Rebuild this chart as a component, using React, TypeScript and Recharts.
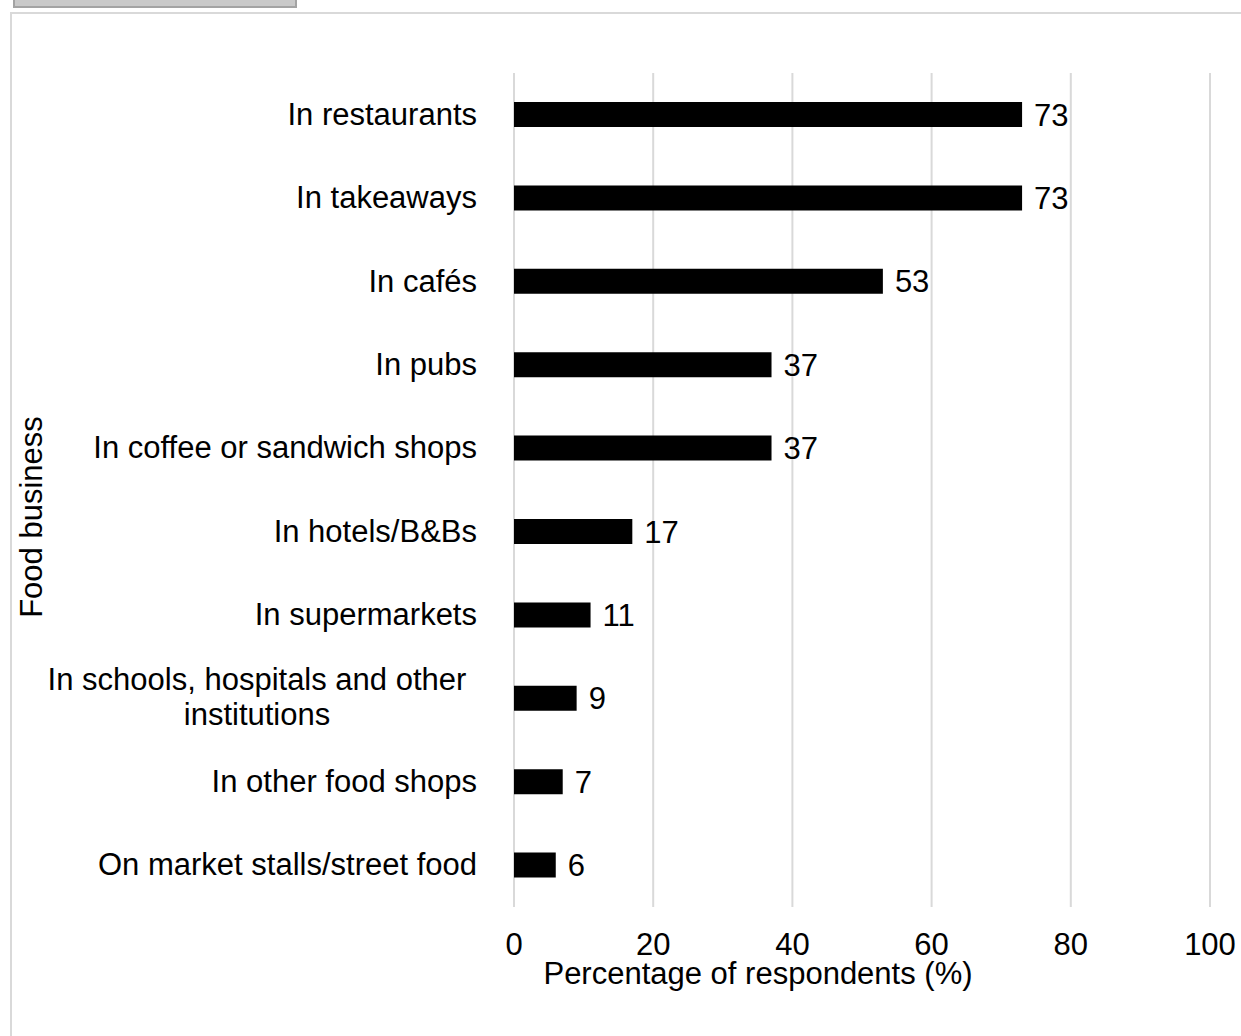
import { BarChart, Bar, XAxis, YAxis, CartesianGrid, LabelList } from 'recharts';

const categories = [
  'In restaurants',
  'In takeaways',
  'In cafés',
  'In pubs',
  'In coffee or sandwich shops',
  'In hotels/B&Bs',
  'In supermarkets',
  'In schools, hospitals and other institutions',
  'In other food shops',
  'On market stalls/street food',
];

const percentages = [73, 73, 53, 37, 37, 17, 11, 9, 7, 6];

const xTicks = [0, 20, 40, 60, 80, 100];

const data = categories.map((name, i) => ({ name, value: percentages[i] }));

const FONT = '"Liberation Sans", Arial, sans-serif';
const FS = 31;

// Excel wraps the long label onto two centred lines
const wrapLines: Record<string, string[]> = {
  'In schools, hospitals and other institutions': ['In schools, hospitals and other', 'institutions'],
};

const CategoryTick = ({ x, y, payload }: any) => {
  const lines = wrapLines[payload.value];
  if (lines) {
    const cx = x - 9 - 211;
    return (
      <g>
        <text x={cx} y={y - 9} textAnchor="middle" fontSize={FS} fontFamily={FONT} fill="#000">
          {lines[0]}
        </text>
        <text x={cx} y={y + 26} textAnchor="middle" fontSize={FS} fontFamily={FONT} fill="#000">
          {lines[1]}
        </text>
      </g>
    );
  }
  return (
    <text x={x} y={y + 10} textAnchor="end" fontSize={FS} fontFamily={FONT} fill="#000">
      {payload.value}
    </text>
  );
};

export default function App() {
  return (
    <div
      style={{
        position: 'fixed',
        left: 0,
        top: 0,
        width: 1241,
        height: 1036,
        overflow: 'hidden',
        background: '#fff',
        fontFamily: FONT,
      }}
    >
      {/* grey strip at the very top */}
      <div
        style={{
          position: 'absolute',
          left: 13,
          top: -4,
          width: 280,
          height: 8,
          background: '#c9c9c9',
          border: '2px solid #a3a3a3',
        }}
      />
      {/* chart frame */}
      <div
        style={{
          position: 'absolute',
          left: 10,
          top: 12,
          width: 1300,
          height: 1100,
          border: '2px solid #d9d9d9',
        }}
      />
      <div style={{ position: 'absolute', left: 0, top: 0 }}>
        <BarChart
          width={1241}
          height={1036}
          data={data}
          layout="vertical"
          margin={{ top: 73, right: 31, bottom: 69, left: 10 }}
          barCategoryGap={0}
        >
          <CartesianGrid horizontal={false} stroke="#d9d9d9" strokeWidth={2} />
          <XAxis
            type="number"
            domain={[0, 100]}
            ticks={xTicks}
            axisLine={false}
            tickLine={false}
            tickSize={0}
            tickMargin={26}
            height={60}
            tick={{ fontSize: FS, fill: '#000', fontFamily: FONT }}
            interval={0}
            label={{
              content: ({ viewBox }: any) => (
                <text
                  x={viewBox.x + 244}
                  y={viewBox.y + 77}
                  textAnchor="middle"
                  fontSize={FS}
                  fontFamily={FONT}
                  fill="#000"
                >
                  Percentage of respondents (%)
                </text>
              ),
            }}
          />
          <YAxis
            type="category"
            dataKey="name"
            width={504}
            axisLine={false}
            tickLine={false}
            tickSize={0}
            tickMargin={37}
            interval={0}
            tick={<CategoryTick />}
            label={{
              content: ({ viewBox }: any) => {
                const cx = viewBox.x + 21.5;
                const cy = viewBox.y + viewBox.height / 2 + 27;
                return (
                  <text
                    x={cx}
                    y={cy}
                    transform={`rotate(-90, ${cx}, ${cy})`}
                    textAnchor="middle"
                    dominantBaseline="central"
                    fontSize={FS}
                    fontFamily={FONT}
                    fill="#000"
                  >
                    Food business
                  </text>
                );
              },
            }}
          />
          <Bar dataKey="value" fill="#000" barSize={25} isAnimationActive={false}>
            <LabelList
              dataKey="value"
              position="right"
              offset={12}
              fill="#000"
              fontSize={FS}
              fontFamily={FONT}
            />
          </Bar>
        </BarChart>
      </div>
    </div>
  );
}
